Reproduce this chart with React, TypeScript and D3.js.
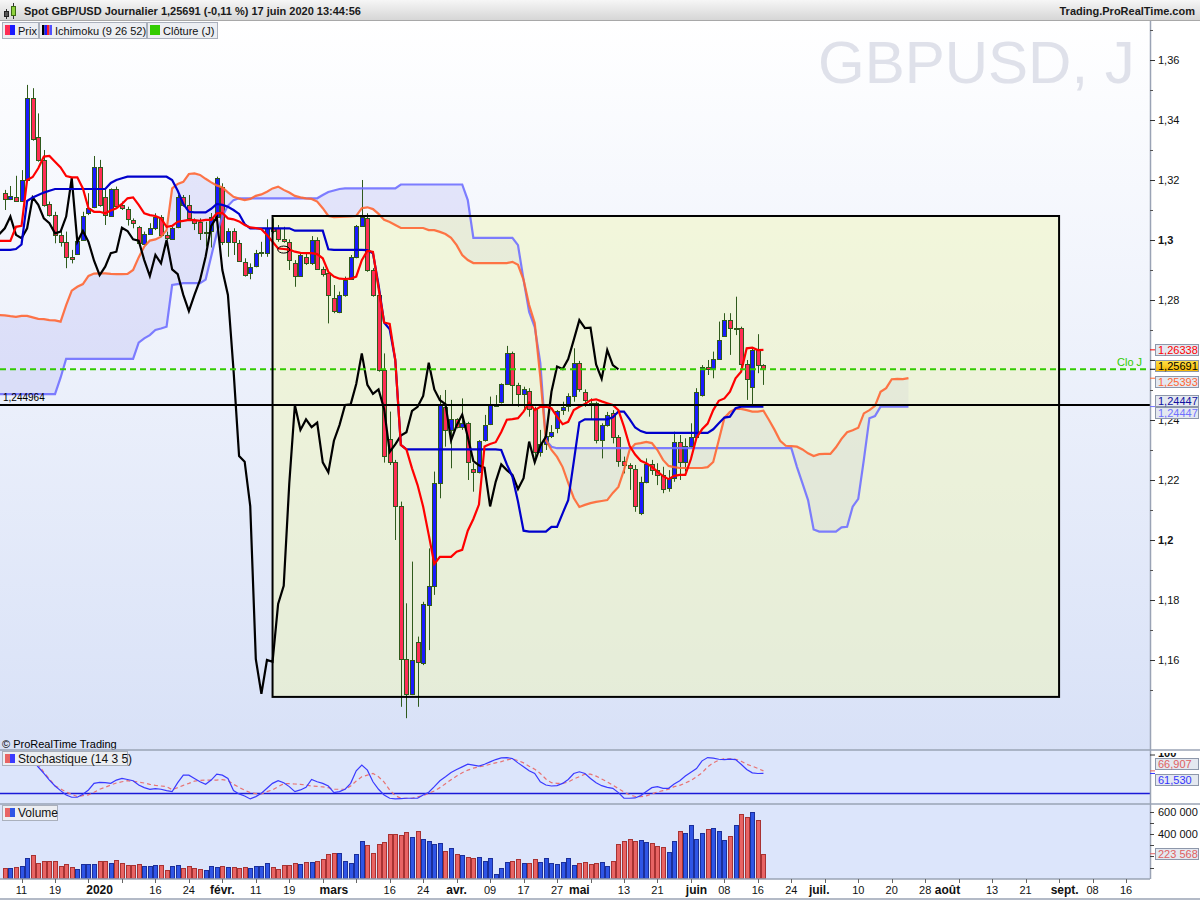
import React from "react";
import * as d3 from "d3";

// ── Layout ────────────────────────────────────────────────────────────────────

const W = 1200;
const H = 900;
const PLOT_R = 1150;
const MAIN = { top: 20, bottom: 750 };
const STO = { top: 750, bottom: 804 };
const VOL = { top: 804, bottom: 879 };
const FONT = "'Liberation Sans', Arial, sans-serif";

const UP_FILL = "#1a1aff";
const DOWN_FILL = "#ff2d55";
const CANDLE_EDGE = "#2f5a1c";
const TENKAN_COLOR = "#ff0000";
const KIJUN_COLOR = "#0000cc";
const SSA_COLOR = "#ff6633";
const SSB_COLOR = "#7070ff";
const CLOSE_GREEN = "#33cc00";

// ── Data ──────────────────────────────────────────────────────────────────────

// trading calendar: weekdays from 6 Dec 2019, these days have no bar
const FIRST_DAY = "2019-12-06";
const LAST_DAY = "2020-09-30";
const CLOSED_DAYS = ["2019-12-25", "2020-01-01"];

// daily candles, bars 0..136 (6 Dec 2019 .. 17 Jun 2020)
const open = [
  1.3156, 1.3137, 1.3144, 1.3131, 1.3200, 1.3472, 1.3342, 1.3267, 1.3120, 1.3083,
  1.3017, 1.2994, 1.2942, 1.2953, 1.3000, 1.3089, 1.3109, 1.3244, 1.3144, 1.3080,
  1.3169, 1.3117, 1.3102, 1.3067, 1.3042, 1.2987, 1.3020, 1.3039, 1.3078, 1.3017,
  1.3002, 1.3044, 1.3142, 1.3117, 1.3067, 1.3061, 1.3022, 1.3030, 1.3078, 1.3178,
  1.2994, 1.3030, 1.2991, 1.2928, 1.2889, 1.2913, 1.2956, 1.2956, 1.3041, 1.3039,
  1.3002, 1.2994, 1.2924, 1.2880, 1.2944, 1.2922, 1.3000, 1.2902, 1.2889, 1.2806,
  1.2761, 1.2817, 1.2869, 1.2944, 1.3047, 1.3072, 1.2900, 1.2817, 1.2567, 1.2336,
  1.2261, 1.2113, 1.1603, 1.1487, 1.1661, 1.1589, 1.1783, 1.1847, 1.2189, 1.2444,
  1.2367, 1.2402, 1.2376, 1.2389, 1.2236, 1.2228, 1.2333, 1.2387, 1.2447, 1.2461,
  1.2520, 1.2622, 1.2516, 1.2487, 1.2497, 1.2437, 1.2294, 1.2319, 1.2348, 1.2372,
  1.2433, 1.2447, 1.2480, 1.2591, 1.2494, 1.2458, 1.2458, 1.2332, 1.2382, 1.2422,
  1.2343, 1.2263, 1.2249, 1.2238, 1.2090, 1.2194, 1.2252, 1.2233, 1.2217, 1.2174,
  1.2206, 1.2328, 1.2259, 1.2314, 1.2344, 1.2483, 1.2578, 1.2570, 1.2603, 1.2681,
  1.2733, 1.2703, 1.2708, 1.2585, 1.2511, 1.2633, 1.2583,
];
const high = [
  1.3167, 1.3180, 1.3214, 1.3233, 1.3517, 1.3506, 1.3422, 1.3300, 1.3128, 1.3094,
  1.3033, 1.3028, 1.2967, 1.3011, 1.3094, 1.3156, 1.3280, 1.3267, 1.3167, 1.3172,
  1.3178, 1.3128, 1.3111, 1.3072, 1.3047, 1.3028, 1.3056, 1.3089, 1.3083, 1.3028,
  1.3044, 1.3150, 1.3150, 1.3150, 1.3072, 1.3072, 1.3061, 1.3090, 1.3211, 1.3189,
  1.3039, 1.3039, 1.3000, 1.2939, 1.2922, 1.2967, 1.2994, 1.3069, 1.3072, 1.3050,
  1.3044, 1.3002, 1.2933, 1.2958, 1.2956, 1.3013, 1.3009, 1.2911, 1.2894, 1.2850,
  1.2828, 1.2878, 1.2950, 1.3050, 1.3200, 1.3089, 1.2906, 1.2830, 1.2622, 1.2428,
  1.2267, 1.2128, 1.1789, 1.1928, 1.1678, 1.1794, 1.1972, 1.2228, 1.2483, 1.2500,
  1.2467, 1.2406, 1.2472, 1.2394, 1.2256, 1.2333, 1.2417, 1.2478, 1.2483, 1.2522,
  1.2647, 1.2628, 1.2524, 1.2511, 1.2506, 1.2444, 1.2367, 1.2372, 1.2383, 1.2433,
  1.2461, 1.2489, 1.2639, 1.2597, 1.2502, 1.2472, 1.2461, 1.2389, 1.2427, 1.2433,
  1.2350, 1.2278, 1.2256, 1.2250, 1.2211, 1.2272, 1.2267, 1.2256, 1.2244, 1.2233,
  1.2361, 1.2350, 1.2339, 1.2389, 1.2506, 1.2583, 1.2600, 1.2628, 1.2728, 1.2756,
  1.2756, 1.2811, 1.2711, 1.2600, 1.2639, 1.2686, 1.2586,
];
const low = [
  1.3100, 1.3133, 1.3128, 1.3128, 1.3194, 1.3331, 1.3261, 1.3111, 1.3078, 1.2989,
  1.2978, 1.2906, 1.2922, 1.2950, 1.2998, 1.3083, 1.3106, 1.3111, 1.3050, 1.3078,
  1.3106, 1.3100, 1.3048, 1.3039, 1.2983, 1.2983, 1.3017, 1.3033, 1.3011, 1.3000,
  1.3000, 1.3039, 1.3111, 1.3067, 1.3033, 1.3000, 1.2978, 1.2975, 1.3060, 1.2983,
  1.2944, 1.2950, 1.2928, 1.2878, 1.2869, 1.2909, 1.2944, 1.2944, 1.3022, 1.2994,
  1.2991, 1.2900, 1.2844, 1.2878, 1.2917, 1.2917, 1.2900, 1.2878, 1.2722, 1.2756,
  1.2756, 1.2811, 1.2867, 1.2939, 1.3044, 1.2894, 1.2811, 1.2561, 1.2258, 1.2250,
  1.2000, 1.1444, 1.1406, 1.1483, 1.1444, 1.1583, 1.1633, 1.1817, 1.2139, 1.2311,
  1.2239, 1.2372, 1.2367, 1.2200, 1.2161, 1.2222, 1.2328, 1.2383, 1.2444, 1.2455,
  1.2517, 1.2450, 1.2444, 1.2433, 1.2411, 1.2261, 1.2278, 1.2300, 1.2340, 1.2356,
  1.2417, 1.2428, 1.2461, 1.2494, 1.2444, 1.2400, 1.2322, 1.2272, 1.2378, 1.2322,
  1.2244, 1.2222, 1.2167, 1.2094, 1.2083, 1.2189, 1.2217, 1.2183, 1.2156, 1.2161,
  1.2194, 1.2200, 1.2228, 1.2306, 1.2339, 1.2478, 1.2550, 1.2539, 1.2600, 1.2678,
  1.2617, 1.2683, 1.2570, 1.2467, 1.2450, 1.2556, 1.2517,
];
const close = [
  1.3137, 1.3146, 1.3131, 1.3200, 1.3472, 1.3336, 1.3267, 1.3117, 1.3083, 1.3017,
  1.2992, 1.2944, 1.2936, 1.2998, 1.3080, 1.3106, 1.3244, 1.3117, 1.3083, 1.3169,
  1.3113, 1.3106, 1.3069, 1.3056, 1.2989, 1.3019, 1.3039, 1.3078, 1.3017, 1.3006,
  1.3039, 1.3142, 1.3117, 1.3072, 1.3056, 1.3022, 1.3028, 1.3078, 1.3206, 1.2994,
  1.3030, 1.2994, 1.2931, 1.2883, 1.2911, 1.2956, 1.2961, 1.3041, 1.3030, 1.3002,
  1.2998, 1.2933, 1.2880, 1.2950, 1.2922, 1.3000, 1.2902, 1.2886, 1.2817, 1.2763,
  1.2817, 1.2867, 1.2944, 1.3047, 1.3076, 1.2900, 1.2817, 1.2567, 1.2280, 1.2261,
  1.2113, 1.1603, 1.1487, 1.1600, 1.1594, 1.1787, 1.1847, 1.2189, 1.2450, 1.2367,
  1.2402, 1.2376, 1.2391, 1.2259, 1.2226, 1.2331, 1.2383, 1.2450, 1.2452, 1.2520,
  1.2622, 1.2517, 1.2487, 1.2502, 1.2437, 1.2294, 1.2319, 1.2348, 1.2359, 1.2430,
  1.2444, 1.2480, 1.2591, 1.2502, 1.2466, 1.2453, 1.2332, 1.2382, 1.2418, 1.2343,
  1.2263, 1.2249, 1.2241, 1.2112, 1.2194, 1.2252, 1.2233, 1.2217, 1.2170, 1.2206,
  1.2328, 1.2259, 1.2314, 1.2344, 1.2494, 1.2578, 1.2570, 1.2603, 1.2667, 1.2733,
  1.2706, 1.2708, 1.2585, 1.2537, 1.2633, 1.2583, 1.25691,
];

// Ichimoku (9 26 52): tenkan & kijun on bars -1..136
const tenkan = [
  1.2997,
  1.2997, 1.2997, 1.3044, 1.3047, 1.3200, 1.3210, 1.3239, 1.3278, 1.3280, 1.3261,
  1.3242, 1.3213, 1.3209, 1.3209, 1.3172, 1.3106, 1.3094, 1.3094, 1.3089, 1.3098,
  1.3106, 1.3120, 1.3139, 1.3142, 1.3117, 1.3089, 1.3083, 1.3080, 1.3072, 1.3044,
  1.3047, 1.3061, 1.3064, 1.3067, 1.3066, 1.3064, 1.3067, 1.3067, 1.3089, 1.3090,
  1.3072, 1.3069, 1.3062, 1.3050, 1.3042, 1.3040, 1.3036, 1.3017, 1.2994, 1.2972,
  1.2970, 1.2968, 1.2961, 1.2957, 1.2956, 1.2956, 1.2953, 1.2939, 1.2894, 1.2878,
  1.2871, 1.2870, 1.2871, 1.2878, 1.2933, 1.2964, 1.2960, 1.2840, 1.2725, 1.2720,
  1.2600, 1.2317, 1.2302, 1.2239, 1.2183, 1.2111, 1.2017, 1.1920, 1.1944, 1.1944,
  1.1944, 1.1961, 1.1967, 1.2031, 1.2070, 1.2118, 1.2312, 1.2320, 1.2326, 1.2360,
  1.2401, 1.2403, 1.2406, 1.2428, 1.2458, 1.2433, 1.2444, 1.2444, 1.2439, 1.2411,
  1.2386, 1.2394, 1.2433, 1.2444, 1.2453, 1.2466, 1.2469, 1.2462, 1.2456, 1.2450,
  1.2433, 1.2378, 1.2314, 1.2285, 1.2264, 1.2256, 1.2244, 1.2228, 1.2213, 1.2203,
  1.2214, 1.2217, 1.2217, 1.2270, 1.2341, 1.2369, 1.2388, 1.2433, 1.2464, 1.2472,
  1.2494, 1.2539, 1.2561, 1.2639, 1.2641, 1.2633, 1.26338,
];
const kijun = [
  1.2967,
  1.2967, 1.2967, 1.2970, 1.2985, 1.3130, 1.3142, 1.3150, 1.3158, 1.3164, 1.3170,
  1.3170, 1.3170, 1.3170, 1.3170, 1.3170, 1.3170, 1.3170, 1.3170, 1.3170, 1.3190,
  1.3200, 1.3206, 1.3211, 1.3211, 1.3211, 1.3211, 1.3211, 1.3211, 1.3211, 1.3211,
  1.3200, 1.3164, 1.3120, 1.3094, 1.3092, 1.3092, 1.3092, 1.3104, 1.3120, 1.3117,
  1.3111, 1.3100, 1.3087, 1.3053, 1.3039, 1.3039, 1.3039, 1.3039, 1.3039, 1.3039,
  1.3039, 1.3039, 1.3031, 1.3031, 1.3031, 1.3031, 1.3031, 1.3031, 1.2969, 1.2967,
  1.2967, 1.2967, 1.2967, 1.2967, 1.2967, 1.2966, 1.2956, 1.2850, 1.2725, 1.2702,
  1.2600, 1.2317, 1.2302, 1.2302, 1.2302, 1.2302, 1.2302, 1.2302, 1.2302, 1.2302,
  1.2302, 1.2302, 1.2302, 1.2302, 1.2302, 1.2302, 1.2302, 1.2302, 1.2302, 1.2300,
  1.2252, 1.2211, 1.2128, 1.2031, 1.2028, 1.2028, 1.2028, 1.2028, 1.2044, 1.2044,
  1.2089, 1.2133, 1.2261, 1.2392, 1.2402, 1.2402, 1.2402, 1.2402, 1.2402, 1.2409,
  1.2428, 1.2428, 1.2403, 1.2375, 1.2363, 1.2357, 1.2357, 1.2357, 1.2357, 1.2357,
  1.2357, 1.2357, 1.2357, 1.2357, 1.2357, 1.2357, 1.2357, 1.2369, 1.2389, 1.2408,
  1.2411, 1.2439, 1.24447, 1.24447, 1.24447, 1.24447, 1.24447,
];
// senkou spans (already shifted 26 ahead), bars -1..162
const senkouA = [
  1.2750,
  1.2749, 1.2746, 1.2744, 1.2747, 1.2747, 1.2742, 1.2737, 1.2736, 1.2733, 1.2732,
  1.2728, 1.2783, 1.2831, 1.2844, 1.2853, 1.2880, 1.2888, 1.2889, 1.2889, 1.2887,
  1.2886, 1.2886, 1.2887, 1.2900, 1.2942, 1.2978, 1.2998, 1.3002, 1.3011, 1.3033,
  1.3172, 1.3187, 1.3194, 1.3220, 1.3222, 1.3217, 1.3204, 1.3192, 1.3182, 1.3175,
  1.3159, 1.3144, 1.3138, 1.3133, 1.3137, 1.3147, 1.3152, 1.3161, 1.3172, 1.3178,
  1.3167, 1.3158, 1.3147, 1.3142, 1.3139, 1.3137, 1.3128, 1.3106, 1.3080, 1.3076,
  1.3077, 1.3078, 1.3079, 1.3080, 1.3106, 1.3109, 1.3103, 1.3087, 1.3067, 1.3060,
  1.3050, 1.3040, 1.3040, 1.3040, 1.3040, 1.3040, 1.3033, 1.3033, 1.3027, 1.3020,
  1.3007, 1.2983, 1.2950, 1.2933, 1.2923, 1.2923, 1.2923, 1.2923, 1.2923, 1.2923,
  1.2923, 1.2927, 1.2917, 1.2867, 1.2783, 1.2723, 1.2543, 1.2333, 1.2300, 1.2277,
  1.2243, 1.2190, 1.2140, 1.2110, 1.2117, 1.2123, 1.2127, 1.2130, 1.2133, 1.2157,
  1.2177, 1.2233, 1.2300, 1.2320, 1.2323, 1.2327, 1.2323, 1.2300, 1.2267, 1.2247,
  1.2243, 1.2240, 1.2240, 1.2240, 1.2240, 1.2240, 1.2243, 1.2260, 1.2333, 1.2407,
  1.2427, 1.2437, 1.2437, 1.2433, 1.2428, 1.2428, 1.2431, 1.2400, 1.2367, 1.2331,
  1.2314, 1.2313, 1.2311, 1.2302, 1.2289, 1.2280, 1.2286, 1.2287, 1.2287, 1.2309,
  1.2337, 1.2359, 1.2366, 1.2374, 1.2422, 1.2433, 1.2447, 1.2494, 1.2506, 1.2536,
  1.2537, 1.2536, 1.25393,
];
const senkouB = [
  1.2486,
  1.2486, 1.2486, 1.2486, 1.2486, 1.2486, 1.2486, 1.2486, 1.2486, 1.2486, 1.2486,
  1.2541, 1.2604, 1.2604, 1.2604, 1.2604, 1.2604, 1.2604, 1.2604, 1.2604, 1.2604,
  1.2604, 1.2604, 1.2604, 1.2604, 1.2658, 1.2672, 1.2683, 1.2700, 1.2705, 1.2711,
  1.2850, 1.2853, 1.2856, 1.2856, 1.2856, 1.2856, 1.2868, 1.2945, 1.3022, 1.3078,
  1.3114, 1.3133, 1.3139, 1.3139, 1.3139, 1.3139, 1.3139, 1.3139, 1.3139, 1.3139,
  1.3139, 1.3139, 1.3139, 1.3139, 1.3139, 1.3139, 1.3139, 1.3150, 1.3160, 1.3165,
  1.3170, 1.3172, 1.3172, 1.3172, 1.3172, 1.3172, 1.3172, 1.3172, 1.3172, 1.3172,
  1.3172, 1.3185, 1.3185, 1.3185, 1.3185, 1.3185, 1.3185, 1.3185, 1.3185, 1.3185,
  1.3185, 1.3185, 1.3185, 1.3133, 1.3007, 1.3007, 1.3007, 1.3007, 1.3007, 1.3007,
  1.3007, 1.3007, 1.2983, 1.2867, 1.2760, 1.2710, 1.2590, 1.2333, 1.2311, 1.2306,
  1.2306, 1.2306, 1.2306, 1.2306, 1.2306, 1.2306, 1.2306, 1.2306, 1.2306, 1.2306,
  1.2306, 1.2306, 1.2306, 1.2306, 1.2306, 1.2306, 1.2306, 1.2306, 1.2306, 1.2306,
  1.2306, 1.2306, 1.2306, 1.2306, 1.2306, 1.2306, 1.2306, 1.2306, 1.2306, 1.2306,
  1.2306, 1.2306, 1.2306, 1.2306, 1.2306, 1.2306, 1.2306, 1.2306, 1.2306, 1.2306,
  1.2306, 1.2306, 1.2244, 1.2189, 1.2133, 1.2035, 1.2028, 1.2028, 1.2028, 1.2028,
  1.2042, 1.2044, 1.2111, 1.2137, 1.2267, 1.2406, 1.2413, 1.24447, 1.24447, 1.24447,
  1.24447, 1.24447, 1.24447,
];

// volume in thousands, bars 0..136
const volumeK = [
  96, 96, 105, 116, 185, 215, 140, 158, 158, 158,
  114, 131, 105, 87, 134, 134, 134, 158, 158, 140,
  167, 143, 125, 125, 134, 116, 116, 122, 122, 78,
  116, 122, 96, 116, 96, 87, 81, 110, 107, 110,
  104, 104, 98, 104, 96, 110, 116, 140, 104, 87,
  122, 122, 140, 131, 149, 152, 158, 179, 224, 230,
  230, 158, 140, 224, 340, 302, 230, 311, 328, 400,
  400, 391, 418, 373, 427, 358, 340, 313, 322, 248,
  275, 221, 212, 194, 185, 194, 158, 185, 45, 98,
  149, 158, 179, 140, 140, 176, 152, 188, 140, 131,
  149, 188, 122, 140, 149, 131, 140, 149, 114, 158,
  311, 338, 356, 338, 349, 328, 320, 293, 284, 239,
  338, 427, 409, 481, 356, 409, 445, 454, 427, 346,
  382, 481, 579, 552, 597, 526, 223.568,
];

// Stochastique (14 3 5), bars 0..136
const stochK = [
  92, 93, 90, 92, 96, 90, 75, 61.5, 47.8, 35.4,
  25.8, 16.8, 12, 12, 18.2, 27.2, 40.9, 43, 42.3, 40.9,
  47.8, 51.2, 49, 46.4, 37.5, 32, 28.6, 30, 28.6, 25.8,
  23.8, 42.3, 58.1, 58.1, 51.2, 44.3, 38.9, 47.8, 60.2, 58.1,
  51.2, 25.8, 18.9, 14.7, 8.5, 13.3, 20.3, 30.6, 40.9, 46.4,
  42.3, 34.1, 23.8, 27.2, 32.7, 49, 44.3, 40.9, 35.4, 21.7,
  23.8, 28.6, 40.9, 67, 78.8, 68.4, 44.3, 28.6, 16.8, 9.9,
  8.5, 9.2, 9.9, 9.9, 9.9, 16.8, 22.4, 34.1, 46.4, 54.7,
  63.6, 69.8, 75.3, 80.8, 78.8, 76.7, 80.8, 85.7, 90.5, 94,
  94.7, 92.6, 83.6, 75.3, 67, 61.5, 44.3, 37.5, 35.4, 36.1,
  40.9, 49, 61.5, 65, 61.5, 51.2, 42.3, 36.1, 32.7, 30.6,
  21.7, 9.9, 9.9, 10.5, 15.4, 23.8, 32, 34.1, 30.6, 30.6,
  39.6, 46.4, 56.1, 64.3, 71.9, 87.8, 94.7, 93.3, 91.2, 90.5,
  91.2, 90.5, 80.8, 69.8, 62.9, 61.5, 61.53,
];
const stochD = [
  90, 91, 92, 92, 92, 93, 80, 64, 50, 36,
  29.3, 23, 18, 13.3, 15.5, 16.8, 22.4, 28.6, 32.7, 37.5,
  41.6, 44.3, 46.4, 45, 43.6, 41.6, 38.9, 36.8, 35.4, 34.1,
  27.9, 32, 36.8, 40.9, 45.7, 47, 47.8, 47.8, 47.8, 48.5,
  47, 38.9, 32.7, 26.5, 21.7, 19.6, 18.9, 23.8, 27.2, 34.1,
  40.2, 40.2, 39.6, 38.9, 37.5, 35.4, 34.7, 33.4, 32, 28.6,
  28.6, 28.6, 35.4, 45.7, 54.7, 58.1, 61.5, 54.7, 43.6, 27.2,
  15.4, 9.9, 9.9, 9.9, 12.6, 15.4, 20.3, 25.1, 32, 40.2,
  48.5, 56.1, 63, 68.4, 72.6, 75.3, 77.4, 80.8, 83.6, 86.3,
  89.7, 91.9, 88.4, 83.6, 76.7, 70.5, 61.5, 50, 42.3, 40.9,
  40.9, 43.6, 50, 54.7, 60.2, 60, 56, 50, 44, 37,
  30, 23, 17, 13.5, 13, 15, 19, 23, 25.8, 28.6,
  34.1, 36.8, 41.6, 47, 54.7, 63, 75.3, 83.6, 89, 92.6,
  91.9, 91.2, 87, 80.8, 76.7, 72, 66.907,
];

// horizontal line, drawn box and small ellipse
const SUPPORT_LEVEL = 1.244964;
const BOX = { fromDate: "2020-02-14", toDate: "2020-08-31", top: 1.308, bottom: 1.1477 };
const MARK = { date: "2020-02-18", price: 1.2968 };

// axis tick labels: [date, text, bold]
const AXIS_LABELS: [string, string, boolean][] = [
  ["2019-12-11", "11", false], ["2019-12-19", "19", false], ["2020-01-02", "2020", true],
  ["2020-01-16", "16", false], ["2020-01-24", "24", false], ["2020-02-03", "févr.", true],
  ["2020-02-11", "11", false], ["2020-02-19", "19", false], ["2020-03-02", "mars", true],
  ["2020-03-16", "16", false], ["2020-03-24", "24", false], ["2020-04-01", "avr.", true],
  ["2020-04-09", "09", false], ["2020-04-17", "17", false], ["2020-04-27", "27", false],
  ["2020-05-01", "mai", true], ["2020-05-13", "13", false], ["2020-05-21", "21", false],
  ["2020-06-01", "juin", true], ["2020-06-08", "08", false], ["2020-06-16", "16", false],
  ["2020-06-24", "24", false], ["2020-07-01", "juil.", true], ["2020-07-10", "10", false],
  ["2020-07-20", "20", false], ["2020-07-28", "28", false], ["2020-08-03", "août", true],
  ["2020-08-13", "13", false], ["2020-08-21", "21", false], ["2020-09-01", "sept.", true],
  ["2020-09-08", "08", false], ["2020-09-16", "16", false],
];
const PRICE_TICKS = [1.16, 1.18, 1.2, 1.22, 1.24, 1.26, 1.28, 1.3, 1.32, 1.34, 1.36];
const VOLUME_TICKS = [200000, 400000, 600000];

// ── Helpers ───────────────────────────────────────────────────────────────────

const iso = (d: Date) => d.toISOString().slice(0, 10);

function tradingDays(): string[] {
  const out: string[] = [];
  const d = new Date(FIRST_DAY + "T00:00:00Z");
  const end = new Date(LAST_DAY + "T00:00:00Z").getTime();
  while (d.getTime() <= end) {
    const wd = d.getUTCDay();
    const s = iso(d);
    if (wd !== 0 && wd !== 6 && !CLOSED_DAYS.includes(s)) out.push(s);
    d.setUTCDate(d.getUTCDate() + 1);
  }
  return out;
}

const comma = (v: number, digits: number) => v.toFixed(digits).replace(".", ",");
const priceTick = (v: number) => String(+v.toFixed(2)).replace(".", ",");
const frLocale = d3.formatLocale({ decimal: ",", thousands: " ", grouping: [3], currency: ["", ""] });
const fmtVol = frLocale.format(",.0f");

interface Tag { y: number; text: string; color: string; fill: string }

const TAG_H = 12;

// push overlapping value tags apart (tags with the same value stack flush)
function spreadTags(tags: Tag[]): Tag[] {
  const s = tags.map((t) => ({ ...t, y0: t.y })).sort((a, b) => a.y - b.y);
  for (let k = 0; k < 60; k++) {
    for (let i = 1; i < s.length; i++) {
      const gap = Math.abs(s[i].y0 - s[i - 1].y0) < 0.5 ? TAG_H : 16;
      const d = s[i].y - s[i - 1].y;
      if (d < gap) {
        const p = (gap - d) / 2;
        s[i - 1].y -= p;
        s[i].y += p;
      }
    }
  }
  return s;
}

function ValueTag({ t, x0 }: { t: Tag; x0: number }) {
  return (
    <g>
      <rect x={x0 + 0.5} y={Math.round(t.y - TAG_H / 2) + 0.5} width={43} height={TAG_H - 1} fill={t.fill} stroke="#8d97aa" />
      <text x={x0 + 3} y={Math.round(t.y) + 4} fontSize={11} fill={t.color} fontFamily={FONT}>
        {t.text}
      </text>
    </g>
  );
}

function LegendButton({ x, w, y, label, icon }: { x: number; w: number; y: number; label: string; icon: React.ReactNode }) {
  return (
    <g>
      <rect x={x + 0.5} y={y + 0.5} width={w} height={16} fill="#eceef2" stroke="#aab0bc" />
      {icon}
      <text x={x + 16} y={y + 12.5} fontSize={11} fill="#111" fontFamily={FONT}>
        {label}
      </text>
    </g>
  );
}

// ── Component ─────────────────────────────────────────────────────────────────

export default function App() {
  const days = tradingDays();
  const bar = new Map(days.map((d, i) => [d, i]));

  const x = d3.scaleLinear().domain([-0.8605, 205.3]).range([0, PLOT_R]);
  const y = d3.scaleLinear().domain([1.13, 1.37333]).range([MAIN.bottom, MAIN.top]);
  const ySto = d3.scaleLinear().domain([0, 100]).range([803, 755]);
  const yVol = d3.scaleLinear().domain([0, 600000]).range([878.7, 811.7]);

  const px = (i: number) => Math.round(x(i));

  const lineFrom = (vals: number[], first: number) =>
    d3.line<number>().x((_, k) => x(k + first)).y((v) => y(v))(vals) ?? "";

  const cloud =
    d3
      .area<number>()
      .x((_, k) => x(k - 1))
      .y0((_, k) => y(senkouA[k]))
      .y1((_, k) => y(senkouB[k]))(senkouA) ?? "";

  // chikou: close plotted 26 bars back
  const chikouPts = close.map((c, i) => [x(i - 26), y(c)] as [number, number]).filter((_, i) => i >= 25);
  const chikou = d3.line()(chikouPts) ?? "";

  const stoLine = (vals: number[]) =>
    d3.line<number>().x((_, i) => x(i)).y((v) => ySto(v))(vals) ?? "";

  const last = close.length - 1;
  const lastT = tenkan[tenkan.length - 1];
  const lastK = kijun[kijun.length - 1];
  const lastA = senkouA[senkouA.length - 1];
  const lastB = senkouB[senkouB.length - 1];

  const priceTags = spreadTags([
    { y: y(lastT), text: comma(lastT, 5), color: "#ff0000", fill: "#e4e8f0" },
    { y: y(close[last]), text: comma(close[last], 5), color: "#000", fill: "url(#goldTag)" },
    { y: y(lastA), text: comma(lastA, 5), color: SSA_COLOR, fill: "#e4e8f0" },
    { y: y(lastK), text: comma(lastK, 5), color: "#1010a0", fill: "#e4e8f0" },
    { y: y(lastB), text: comma(lastB, 5), color: SSB_COLOR, fill: "#e4e8f0" },
  ]);
  const stoTags = spreadTags([
    { y: ySto(stochD[last]), text: comma(stochD[last], 3), color: "#e06060", fill: "#e4e8f0" },
    { y: ySto(stochK[last]), text: comma(stochK[last], 3), color: "#3333ff", fill: "#e4e8f0" },
  ]);
  // an axis label whose centre sits under a value tag is hidden by it
  const hiddenByTag = (v: number) =>
    priceTags.some((t) => Math.abs(y(v) - t.y) <= TAG_H / 2);

  const boxX0 = x(bar.get(BOX.fromDate) ?? 0);
  const boxX1 = x(bar.get(BOX.toDate) ?? 0);

  const regularTicks = d3.range(3, 206, 6);

  return (
    <svg width={W} height={H} style={{ position: "absolute", left: 0, top: 0, background: "#fff" }} fontFamily={FONT}>
      <defs>
        <linearGradient id="mainBg" x1="0" y1="0" x2="0" y2="1">
          <stop offset="0%" stopColor="#ffffff" />
          <stop offset="100%" stopColor="#d8e1f7" />
        </linearGradient>
        <linearGradient id="titleBg" x1="0" y1="0" x2="0" y2="1">
          <stop offset="0%" stopColor="#f6f6f6" />
          <stop offset="100%" stopColor="#d6d6d6" />
        </linearGradient>
        <linearGradient id="goldTag" x1="0" y1="0" x2="0" y2="1">
          <stop offset="0%" stopColor="#ffe14a" />
          <stop offset="100%" stopColor="#f4b400" />
        </linearGradient>
        <clipPath id="mainClip">
          <rect x={0} y={MAIN.top} width={PLOT_R} height={MAIN.bottom - MAIN.top} />
        </clipPath>
        <clipPath id="stoClip">
          <rect x={0} y={STO.top} width={PLOT_R} height={STO.bottom - STO.top} />
        </clipPath>
        <clipPath id="stoAxisClip">
          <rect x={PLOT_R} y={STO.top + 3} width={50} height={STO.bottom - STO.top} />
        </clipPath>
      </defs>

      {/* ── main price panel ── */}
      <rect x={0} y={MAIN.top} width={PLOT_R} height={MAIN.bottom - MAIN.top} fill="url(#mainBg)" />
      <text x={818} y={83} fontSize={60} fill="#dfe1ea">GBPUSD, J</text>

      <g clipPath="url(#mainClip)">
        <path d={cloud} fill="rgba(150,150,240,0.2)" />
        <rect x={boxX0} y={y(BOX.top)} width={boxX1 - boxX0} height={y(BOX.bottom) - y(BOX.top)} fill="rgba(240,245,185,0.5)" />

        {open.map((o, i) => {
          const c = close[i];
          const cx = px(i) + 0.5;
          const top = Math.round(y(Math.max(o, c)));
          const bot = Math.round(y(Math.min(o, c)));
          return (
            <g key={i}>
              <line x1={cx} x2={cx} y1={y(high[i])} y2={y(low[i])} stroke={CANDLE_EDGE} strokeWidth={1} />
              <rect x={cx - 2} y={top + 0.5} width={4} height={Math.max(1, bot - top)} fill={c >= o ? UP_FILL : DOWN_FILL} stroke={CANDLE_EDGE} strokeWidth={1} />
            </g>
          );
        })}

        <path d={lineFrom(senkouB, -1)} fill="none" stroke={SSB_COLOR} strokeWidth={2.2} strokeOpacity={0.9} />
        <path d={lineFrom(senkouA, -1)} fill="none" stroke={SSA_COLOR} strokeWidth={2.2} strokeOpacity={0.9} />
        <path d={chikou} fill="none" stroke="#000" strokeWidth={2.2} />
        <path d={lineFrom(kijun, -1)} fill="none" stroke={KIJUN_COLOR} strokeWidth={2.2} />
        <path d={lineFrom(tenkan, -1)} fill="none" stroke={TENKAN_COLOR} strokeWidth={2.2} />

        <line x1={0} x2={PLOT_R} y1={y(SUPPORT_LEVEL)} y2={y(SUPPORT_LEVEL)} stroke="#000" strokeWidth={2} />
        <line x1={0} x2={PLOT_R} y1={y(close[last])} y2={y(close[last])} stroke={CLOSE_GREEN} strokeWidth={2} strokeDasharray="6 4" />
        <rect x={boxX0} y={y(BOX.top)} width={boxX1 - boxX0} height={y(BOX.bottom) - y(BOX.top)} fill="none" stroke="#000" strokeWidth={2} />
        <ellipse cx={x(bar.get(MARK.date) ?? 0)} cy={y(MARK.price)} rx={6} ry={3.5} fill="none" stroke="#000" strokeWidth={1} />
      </g>

      <text x={3} y={y(SUPPORT_LEVEL) - 4} fontSize={10} fill="#000">{comma(SUPPORT_LEVEL, 6)}</text>
      <text x={1117} y={y(close[last]) - 3} fontSize={11} fill={CLOSE_GREEN}>Clo J</text>
      <text x={2} y={748} fontSize={11} fill="#000">© ProRealTime Trading</text>

      {/* ── stochastic panel ── */}
      <rect x={0} y={STO.top} width={PLOT_R} height={STO.bottom - STO.top} fill="#dce5fb" />
      <g clipPath="url(#stoClip)">
        <line x1={0} x2={PLOT_R} y1={ySto(20)} y2={ySto(20)} stroke="#1a1ad8" strokeWidth={1.5} />
        <path d={stoLine(stochD)} fill="none" stroke="#e87373" strokeWidth={1.2} strokeDasharray="4 3" />
        <path d={stoLine(stochK)} fill="none" stroke="#3a3aff" strokeWidth={1.2} />
      </g>

      {/* ── volume panel ── */}
      <rect x={0} y={VOL.top} width={PLOT_R} height={VOL.bottom - VOL.top} fill="#dce5fb" />
      {volumeK.map((v, i) => {
        const up = close[i] >= open[i];
        const top = Math.round(yVol(v * 1000));
        return (
          <rect key={i} x={px(i) - 1.5} y={top + 0.5} width={4} height={Math.max(1, VOL.bottom - top - 1)}
            fill={up ? "#2f55e6" : "#e86464"} stroke={up ? "#1b2f9a" : "#a83232"} strokeWidth={1} />
        );
      })}

      {/* panel frames */}
      <g stroke="#9aa3b5" strokeWidth={1.5}>
        <line x1={0} x2={W} y1={STO.top} y2={STO.top} />
        <line x1={0} x2={W} y1={STO.bottom} y2={STO.bottom} />
        <line x1={0} x2={PLOT_R} y1={VOL.bottom} y2={VOL.bottom} />
        <line x1={PLOT_R + 0.5} x2={PLOT_R + 0.5} y1={MAIN.top} y2={VOL.bottom} />
        <line x1={0} x2={W} y1={H - 1} y2={H - 1} />
      </g>

      {/* ── right axes ── */}
      {d3.range(1.15, 1.37, 0.01).map((v) => (
        <line key={v} x1={PLOT_R} x2={PLOT_R + 3} y1={Math.round(y(v)) + 0.5} y2={Math.round(y(v)) + 0.5} stroke="#555" />
      ))}
      {PRICE_TICKS.map((v) => {
        const bold = Math.abs(v * 10 - Math.round(v * 10)) < 1e-6;
        return (
          <g key={v}>
            <line x1={PLOT_R} x2={PLOT_R + 5} y1={Math.round(y(v)) + 0.5} y2={Math.round(y(v)) + 0.5} stroke="#333" />
            {!hiddenByTag(v) && (
              <text x={PLOT_R + 8} y={y(v) + 4} fontSize={11} fontWeight={bold ? "bold" : "normal"} fill="#111">{priceTick(v)}</text>
            )}
          </g>
        );
      })}
      <line x1={PLOT_R} x2={PLOT_R + 5} y1={y(lastT)} y2={y(lastT)} stroke="#ff0000" />
      <line x1={PLOT_R} x2={PLOT_R + 5} y1={y(close[last])} y2={y(close[last])} stroke="#000" />
      <line x1={PLOT_R} x2={PLOT_R + 5} y1={y(lastA)} y2={y(lastA)} stroke={SSA_COLOR} />
      <line x1={PLOT_R} x2={PLOT_R + 5} y1={y(lastK)} y2={y(lastK)} stroke={SSB_COLOR} />
      {priceTags.map((t, i) => <ValueTag key={i} t={t} x0={PLOT_R + 5} />)}

      <g clipPath="url(#stoAxisClip)">
        <line x1={PLOT_R} x2={PLOT_R + 5} y1={ySto(100)} y2={ySto(100)} stroke="#333" />
        <text x={PLOT_R + 8} y={ySto(100) + 2} fontSize={11} fontWeight="bold" fill="#111">100</text>
      </g>
      <line x1={PLOT_R} x2={PLOT_R + 5} y1={ySto(stochD[last])} y2={ySto(stochD[last])} stroke="#e06060" />
      <line x1={PLOT_R} x2={PLOT_R + 5} y1={ySto(stochK[last])} y2={ySto(stochK[last])} stroke="#3333ff" />
      {stoTags.map((t, i) => <ValueTag key={i} t={t} x0={PLOT_R + 5} />)}

      {d3.range(100000, 700000, 100000).map((v) => (
        <line key={v} x1={PLOT_R} x2={PLOT_R + 4} y1={Math.round(yVol(v)) + 0.5} y2={Math.round(yVol(v)) + 0.5} stroke="#444" />
      ))}
      {VOLUME_TICKS.filter((v) => Math.abs(yVol(v) - yVol(volumeK[last] * 1000)) > TAG_H / 2).map((v) => (
        <text key={v} x={PLOT_R + 8} y={yVol(v) + 4} fontSize={11} fill="#111">{fmtVol(v)}</text>
      ))}
      <line x1={PLOT_R} x2={PLOT_R + 5} y1={yVol(volumeK[last] * 1000)} y2={yVol(volumeK[last] * 1000)} stroke="#e06060" />
      <ValueTag t={{ y: yVol(volumeK[last] * 1000), text: fmtVol(volumeK[last] * 1000), color: "#e06060", fill: "#e4e8f0" }} x0={PLOT_R + 5} />

      {/* ── time axis ── */}
      {regularTicks.map((i) => (
        <line key={i} x1={px(i) + 0.5} x2={px(i) + 0.5} y1={VOL.bottom} y2={VOL.bottom + 4} stroke="#666" />
      ))}
      {AXIS_LABELS.map(([d, t, bold]) => (
        <text key={d} x={x(bar.get(d) ?? 0)} y={894} textAnchor="middle" fontSize={bold ? 12 : 11} fontWeight={bold ? "bold" : "normal"} fill="#111">
          {t}
        </text>
      ))}

      {/* ── panel captions ── */}
      <rect x={2.5} y={751.5} width={125} height={14} fill="#eceef2" stroke="#aab0bc" />
      <rect x={5} y={754} width={5} height={9} fill="#e86464" />
      <rect x={10} y={754} width={5} height={9} fill="#3a3aff" />
      <text x={18} y={763} fontSize={12} fill="#111">Stochastique (14 3 5)</text>
      <rect x={2.5} y={805.5} width={55} height={15} fill="#eceef2" stroke="#aab0bc" />
      <rect x={5} y={808} width={5} height={9} fill="#e86464" />
      <rect x={10} y={808} width={5} height={9} fill="#2f55e6" />
      <text x={18} y={817} fontSize={12} fill="#111">Volume</text>

      {/* ── title bar & legend ── */}
      <rect x={0} y={0} width={W} height={20} fill="url(#titleBg)" />
      <line x1={0} x2={W} y1={20.5} y2={20.5} stroke="#a8a8a8" />
      <g>
        <line x1={6.5} x2={6.5} y1={9} y2={19} stroke="#333" />
        <rect x={4.5} y={11.5} width={4} height={5} fill="#555" stroke="#222" />
        <line x1={13.5} x2={13.5} y1={3} y2={19} stroke="#333" />
        <rect x={11.5} y={6.5} width={4} height={9} fill="#8fd13f" stroke="#3c6a14" />
      </g>
      <text x={24} y={15} fontSize={11} fontWeight="bold" fill="#1a1a1a">
        Spot GBP/USD Journalier 1,25691 (-0,11 %) 17 juin 2020 13:44:56
      </text>
      <text x={1195} y={15} fontSize={11} fontWeight="bold" fill="#1a1a1a" textAnchor="end">Trading.ProRealTime.com</text>

      <LegendButton x={2} w={36} y={22} label="Prix" icon={
        <g><rect x={5} y={25} width={5} height={10} fill="#ff2d55" /><rect x={10} y={25} width={5} height={10} fill="#1a1aff" /></g>
      } />
      <LegendButton x={39} w={107} y={22} label="Ichimoku (9 26 52)" icon={
        <g>
          <rect x={42} y={25} width={2.5} height={10} fill="#000" />
          <rect x={44.5} y={25} width={2.5} height={10} fill="#1a1aff" />
          <rect x={47} y={25} width={2.5} height={10} fill="#ff2020" />
          <rect x={49.5} y={25} width={2.5} height={10} fill="#5050ff" />
        </g>
      } />
      <LegendButton x={147} w={70} y={22} label="Clôture (J)" icon={
        <rect x={150} y={25} width={10} height={10} fill={CLOSE_GREEN} />
      } />
    </svg>
  );
}
